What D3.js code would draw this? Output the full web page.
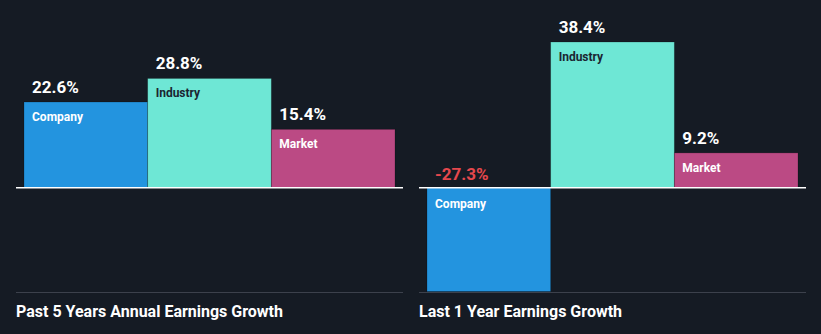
<!DOCTYPE html>
<html><head><meta charset="utf-8">
<script src="https://cdn.jsdelivr.net/npm/d3@7"></script>
<style>
html,body{margin:0;padding:0;background:#151b24;}
svg{display:block;}
text{font-family:Roboto,"Noto Sans",sans-serif;font-weight:700;}
</style></head><body>
<script>
const categories = ["Company", "Industry", "Market"];
const panelTitles = ["Past 5 Years Annual Earnings Growth", "Last 1 Year Earnings Growth"];
const past5Years = [22.6, 28.8, 15.4];
const last1Year = [-27.3, 38.4, 9.2];
const panels = [past5Years, last1Year];
const colors = ["#2394df", "#6ee7d5", "#bb4a84"];
const labelColors = ["#ffffff", "#1b2531", "#ffffff"];

const W = 821, H = 334;
const svg = d3.select("body").append("svg").attr("width", W).attr("height", H);
svg.append("rect").attr("width", W).attr("height", H).attr("fill", "#151b24");

const y = d3.scaleLinear().domain([-27.3, 38.4]).range([291.5, 42]);
const fmt = d3.formatLocale({decimal: ".", thousands: ",", grouping: [3], currency: ["", ""], minus: "-"}).format(".1f");

const panelX = [16, 419];
const panelW = 387;

panels.forEach((vals, p) => {
  const g = svg.append("g").attr("transform", `translate(${panelX[p]},0)`);
  const x = d3.scaleBand().domain(categories).range([8, 379]).padding(0);
  vals.forEach((v, i) => {
    const c = categories[i];
    const y0 = y(0), y1 = y(v);
    g.append("rect")
      .attr("x", x(c)).attr("width", x.bandwidth())
      .attr("y", Math.min(y0, y1)).attr("height", Math.abs(y1 - y0))
      .attr("fill", colors[i])
      .attr("stroke", "rgba(0,0,0,0.25)").attr("stroke-width", 0.8);
    const neg = v < 0;
    g.append("text")
      .attr("x", x(c) + 8)
      .attr("y", neg ? y0 - 8 : y1 - 9)
      .attr("fill", neg ? "#e5484d" : "#ffffff")
      .attr("font-size", 17)
      .text(fmt(v) + "%");
    g.append("text")
      .attr("x", x(c) + 8)
      .attr("y", neg ? y0 + 20 : y1 + 19)
      .attr("fill", labelColors[i])
      .attr("font-size", 12)
      .text(c);
  });
  g.append("line").attr("x1", 0).attr("x2", panelW)
    .attr("y1", y(0)).attr("y2", y(0))
    .attr("stroke", "#ffffff").attr("stroke-width", 1.5);
  g.append("line").attr("x1", 0).attr("x2", panelW)
    .attr("y1", 292.5).attr("y2", 292.5)
    .attr("stroke", "#3c414c").attr("stroke-width", 1);
  g.append("text").attr("x", 0).attr("y", 317)
    .attr("fill", "#ffffff").attr("font-size", 16)
    .text(panelTitles[p]);
});
</script>
</body></html>
